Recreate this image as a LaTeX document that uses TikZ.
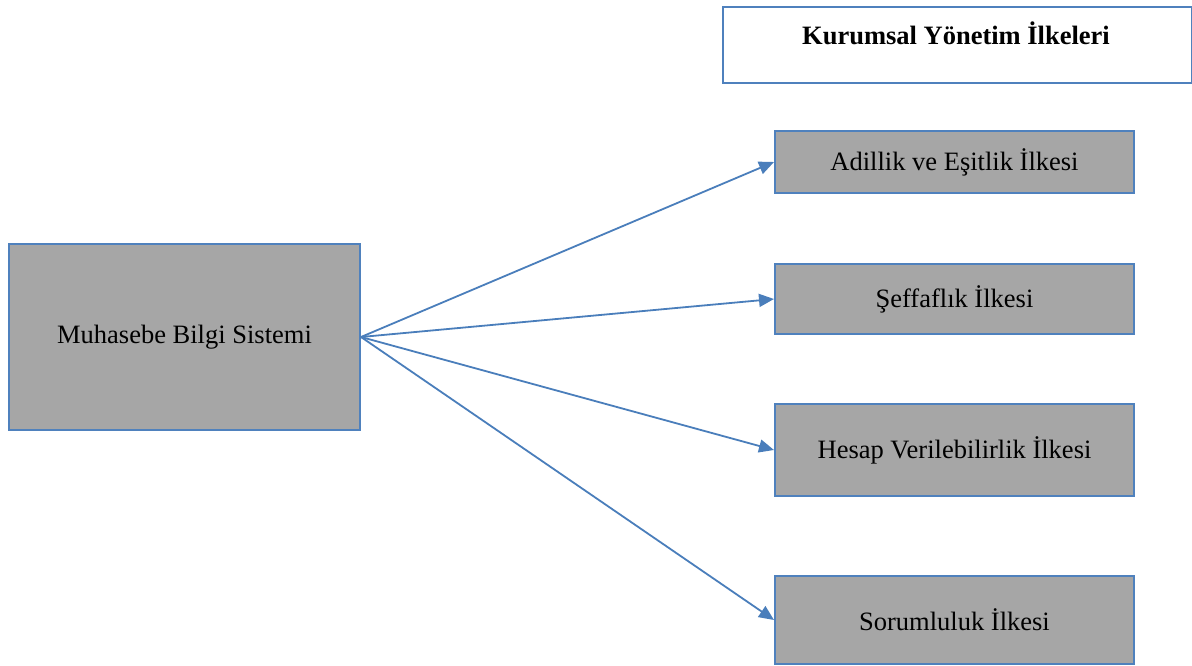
\documentclass[tikz,border=0pt]{standalone}
\usepackage{fontspec}
\setmainfont{Liberation Serif}
\usetikzlibrary{arrows.meta}
\definecolor{bordblue}{HTML}{4F81BD}
\definecolor{arrblue}{HTML}{4A7EBB}
\definecolor{boxgray}{HTML}{A6A6A6}
\tikzset{
  graybox/.style={draw=bordblue, line width=2pt, fill=boxgray, minimum width=#1, inner sep=0pt, font=\fontsize{26.5}{30}\selectfont, anchor=north west},
  conn/.style={draw=arrblue, line width=1.8pt, -{Triangle[length=15pt,width=13pt]}}
}
\begin{document}
\begin{tikzpicture}[x=1pt,y=-1pt]
\useasboundingbox (0,0) rectangle (1192,666);
% title box
\node[draw=bordblue, line width=2pt, fill=white, minimum width=469pt, minimum height=76pt, inner sep=0pt, anchor=north west] (title) at (722,6) {};
\node[font=\bfseries\fontsize{26.5}{30}\selectfont] (titletext) at (956,33) {Kurumsal Yönetim İlkeleri};
% left box
\node[graybox=351pt, minimum height=186pt] (mbs) at (8,243) {Muhasebe Bilgi Sistemi};
% right boxes
\node[graybox=359pt, minimum height=62pt] (a) at (774,130) {Adillik ve Eşitlik İlkesi};
\node[graybox=359pt, minimum height=70pt] (b) at (774,263) {Şeffaflık İlkesi};
\node[graybox=359pt, minimum height=92pt] (c) at (774,403) {Hesap Verilebilirlik İlkesi};
\node[graybox=359pt, minimum height=88pt] (d) at (774,575) {Sorumluluk İlkesi};
% connectors
\draw[conn] (mbs.east) -- (a.west);
\draw[conn] (mbs.east) -- (b.west);
\draw[conn] (mbs.east) -- (c.west);
\draw[conn] (mbs.east) -- (d.west);
\end{tikzpicture}
\end{document}
